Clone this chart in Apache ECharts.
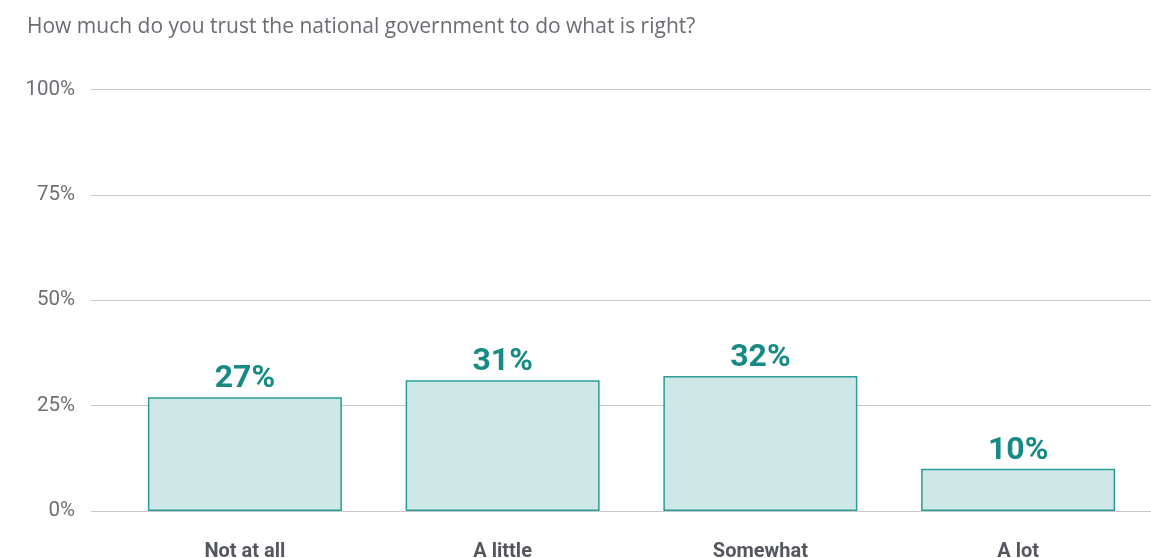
<!DOCTYPE html>
<html>
<head>
<meta charset="utf-8">
<script src="https://cdn.jsdelivr.net/npm/echarts@6/dist/echarts.min.js"></script>
<style>
html,body{margin:0;padding:0;background:#fff;}
#chart{width:1151px;height:558px;}
</style>
</head>
<body>
<div id="chart"></div>
<script>
const title = "How much do you trust the national government to do what is right?";
const categories = ["Not at all", "A little", "Somewhat", "A lot"];
const values = [27, 31, 32, 10];
const yTicks = [0, 25, 50, 75, 100];

const chart = echarts.init(document.getElementById('chart'), null, {renderer: 'canvas'});
const gridTop = 89.5, gridBottom = 47;
chart.setOption({
  animation: false,
  backgroundColor: '#ffffff',
  title: {
    text: title,
    left: 22, top: 12,
    textStyle: {fontFamily: 'Open Sans', fontSize: 21, fontWeight: 'normal', color: '#6a6c73'}
  },
  grid: [
    {left: 91, right: 0, top: gridTop, bottom: gridBottom, containLabel: false, outerBoundsMode: 'none'},
    {left: 116, right: 4, top: gridTop, bottom: gridBottom, containLabel: false, outerBoundsMode: 'none'}
  ],
  xAxis: [
    {type: 'value', gridIndex: 0, show: false, min: 0, max: 1},
    {type: 'category', gridIndex: 1, data: categories,
      axisLine: {show: false}, axisTick: {show: false},
      axisLabel: {fontFamily: 'Roboto', fontWeight: 'bold', fontSize: 20, color: '#55575e', margin: 31}}
  ],
  yAxis: [
    {type: 'value', gridIndex: 0, min: 0, max: 100, interval: 25,
      axisLine: {show: false}, axisTick: {show: false},
      axisLabel: {formatter: v => yTicks.includes(v) ? v + '%' : '', fontFamily: 'Roboto', fontSize: 20.5, color: '#6e6e75', margin: 16},
      splitLine: {lineStyle: {color: '#c8c8c8', width: 1}}},
    {type: 'value', gridIndex: 1, min: 0, max: 100, interval: 25, show: false, splitLine: {show: false}}
  ],
  series: [{
    type: 'bar',
    xAxisIndex: 1, yAxisIndex: 1,
    data: values,
    barWidth: 194,
    itemStyle: {color: '#cfe7e6', borderColor: '#2a9d96', borderWidth: 1.5},
    label: {show: true, position: 'top', distance: 2, formatter: p => p.value + '%',
      fontFamily: 'Roboto', fontWeight: 'bold', fontSize: 32, color: '#178a84'}
  }]
});
</script>
</body>
</html>
